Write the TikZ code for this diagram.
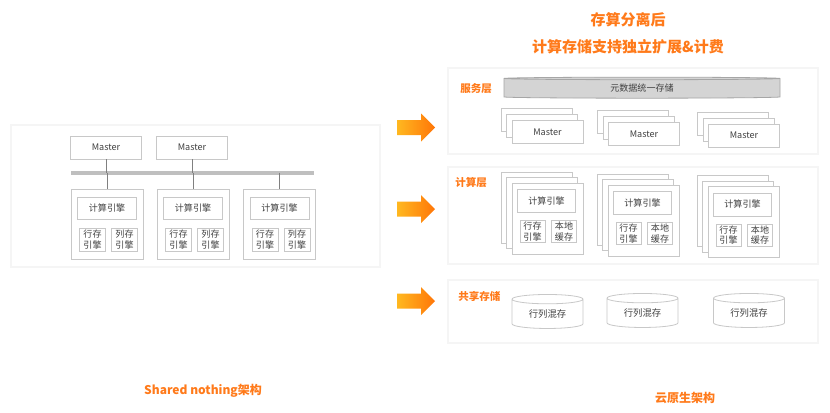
\documentclass[tikz,border=0pt]{standalone}
\usepackage{fontspec}
\setmainfont{Noto Sans CJK SC}
\usetikzlibrary{positioning,calc,shapes.geometric}
\definecolor{hiorange}{RGB}{255,122,26}
\definecolor{arrowstart}{RGB}{255,184,32}
\definecolor{arrowend}{RGB}{255,118,8}
\definecolor{boxline}{RGB}{200,200,200}
\definecolor{boxtext}{RGB}{64,64,64}
\tikzset{
  panel/.style={draw=black!4, line width=1.5pt, fill=white, inner sep=0pt},
  box/.style={draw=boxline, line width=0.6pt, fill=white, text=boxtext,
    font=\fontsize{6.8}{8}\selectfont, inner sep=0pt, align=center},
  master/.style={box, minimum width=53.25pt, minimum height=17.25pt},
  server/.style={box, minimum width=54pt, minimum height=52.5pt},
  engine/.style={box, minimum width=44.25pt, minimum height=16.5pt},
  cell/.style={box, minimum width=19.5pt, minimum height=17.25pt},
  card/.style={box, minimum width=53.25pt, minimum height=53.25pt},
  rengine/.style={box, minimum width=43.5pt, minimum height=17.25pt},
  rcell/.style={box, minimum width=18.75pt, minimum height=16.5pt},
  store/.style={box, cylinder, shape border rotate=90, aspect=0.25,
    minimum width=53.25pt, minimum height=25.5pt, font=\fontsize{7}{8}\selectfont},
  meta/.style={store, fill=black!17, draw=black!35, aspect=0.04,
    minimum width=207pt, minimum height=15.75pt, font=\fontsize{6.8}{8}\selectfont},
  layerlabel/.style={anchor=west, text=hiorange, inner sep=0pt,
    font=\fontsize{7.9}{9}\selectfont\bfseries},
  title/.style={text=hiorange, inner sep=0pt, font=\fontsize{11.25}{13}\selectfont\bfseries},
  caption/.style={text=hiorange, inner sep=0pt, font=\fontsize{9}{10}\selectfont\bfseries},
  bus/.style={line width=3pt, draw=black!25},
  link/.style={line width=0.6pt, draw=black!50},
  bigarrow/.style={left color=arrowstart, right color=arrowend},
}
\begin{document}
\begin{tikzpicture}[x=0.75pt, y=-0.75pt]
  \fill[white] (0,0) rectangle (830,412);
  \useasboundingbox (0,0) rectangle (830,412);
  % left: shared nothing
  \node[panel, minimum width=276.75pt, minimum height=106.5pt] (lp) at (195.5,196) {};
  \node[master] (m1) at (106,147.5) {Master};
  \node[master] (m2) at (192,147.5) {Master};
  \coordinate (busL) at (71,172.5);
  \coordinate (busR) at (314,172.5);
  \draw[bus] (busL) -- (busR);
  \foreach \i/\x in {1/107, 2/193, 3/279.5} {
    \node[server] (n\i) at (\x,224) {};
    \node[engine] (e\i) at ($(n\i)+(0,-16)$) {计算引擎};
    \node[cell] (r\i) at ($(n\i)+(-14.5,15.5)$) {行存\\引擎};
    \node[cell] (c\i) at ($(n\i)+(17.5,15.5)$) {列存\\引擎};
    \draw[link] (n\i |- busL) -- (n\i);
  }
  \draw[link] (m1) -- (m1 |- busL);
  \draw[link] (m2) -- (m2 |- busL);
  \node[caption] (lcap) at (203,391) {Shared nothing架构};
  % arrows
  \foreach \y in {127.5, 209, 301}
    \shade[bigarrow] (397,\y-7.5) -- (421,\y-7.5) -- (421,\y-14) -- (435,\y)
      -- (421,\y+14) -- (421,\y+7.5) -- (397,\y+7.5) -- cycle;
  % right: cloud native
  \node[title] (t1) at (628,19.5) {存算分离后};
  \node[title] (t2) at (628,46.5) {计算存储支持独立扩展\&计费};
  % service layer
  \node[panel, minimum width=277.5pt, minimum height=64.5pt] (sp) at (633,111) {};
  \node[layerlabel] (sl) at (460,89) {服务层};
  \node[meta] (md) at (642,88.5) {元数据统一存储};
  \foreach \s/\x/\y in {s1/547.5/132, s2/644/134, s3/744/135.5} {
    \node[master] (\s-c) at (\x-11,\y-12) {};
    \node[master] (\s-b) at (\x-5.5,\y-6) {};
    \node[master] (\s-a) at (\x,\y) {Master};
  }
  % compute layer
  \node[panel, minimum width=277.5pt, minimum height=72.75pt] (cp) at (633,215.5) {};
  \node[layerlabel] (cl) at (455,182) {计算层};
  \foreach \k/\x/\y in {k1/547.5/218.5, k2/643.5/220.5, k3/743.5/222} {
    \node[card] (\k-c) at (\x-11,\y-11) {};
    \node[card] (\k-b) at (\x-5.5,\y-5.5) {};
    \node[card] (\k-a) at (\x,\y) {};
    \node[rengine] (\k-e) at ($(\k-a)+(-1,-17.5)$) {计算引擎};
    \node[rcell] (\k-r) at ($(\k-a)+(-15,13)$) {行存\\引擎};
    \node[rcell] (\k-l) at ($(\k-a)+(16.5,13)$) {本地\\缓存};
  }
  % shared storage
  \node[panel, minimum width=277.5pt, minimum height=47.25pt] (tp) at (633,311.5) {};
  \node[layerlabel] (tl) at (458,296) {共享存储};
  \node[store] (d1) at (547.5,314) {行列混存};
  \node[store] (d2) at (642.5,313) {行列混存};
  \node[store] (d3) at (749,313) {行列混存};
  \node[caption] (rcap) at (685,397.5) {云原生架构};
\end{tikzpicture}
\end{document}
